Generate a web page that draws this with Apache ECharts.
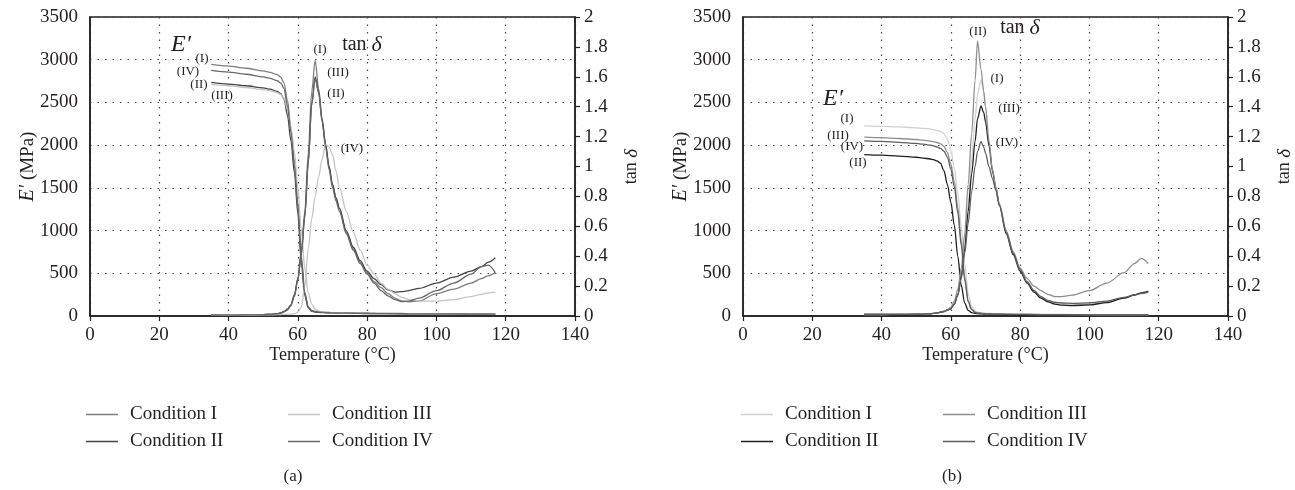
<!DOCTYPE html>
<html><head><meta charset="utf-8">
<script src="https://cdn.jsdelivr.net/npm/echarts@6/dist/echarts.min.js"></script>
<style>html,body{margin:0;padding:0;background:#fff}#c{width:1295px;height:490px}</style>
</head><body><div id="c"></div>
<script>
// ---------- data ----------
const conditionNames = ['Condition I','Condition II','Condition III','Condition IV'];
const xTicks = [0,20,40,60,80,100,120,140];

// panel (a)
const tempA = [35,40,45,50,52,54,55,56,57,58,59,60,61,62,63,64,65,66,67,68,69,70,71,72,74,76,78,80,82,84,86,88,90,92,95,100,105,110,113,115,117];
const aE_I   = [2945,2925,2900,2870,2852,2825,2800,2730,2520,2200,1820,1330,700,280,110,65,55,50,46,43,41,39,38,37,35,34,33,32,31,30,30,29,29,28,27,26,25,24,24,23,23];
const aE_II  = [2735,2715,2695,2670,2655,2630,2605,2540,2350,2050,1680,1200,620,240,95,55,45,42,40,38,36,35,34,33,32,31,30,29,28,28,27,27,26,26,25,25,24,23,23,22,22];
const aE_III = [2712,2695,2675,2650,2636,2615,2595,2545,2420,2220,1920,1500,1000,560,270,140,80,58,48,44,41,39,37,36,34,33,32,31,30,29,29,28,28,27,26,25,24,23,23,22,22];
const aE_IV  = [2875,2855,2830,2800,2782,2755,2730,2665,2460,2150,1760,1270,660,260,100,60,50,46,43,40,38,36,35,34,33,32,31,30,29,28,28,27,27,26,26,25,24,23,23,22,22];
const aT_I   = [0.005,0.006,0.007,0.009,0.011,0.015,0.02,0.03,0.045,0.075,0.14,0.25,0.43,0.70,1.09,1.5,1.71,1.52,1.32,1.15,1.0,0.88,0.79,0.72,0.56,0.45,0.36,0.29,0.23,0.19,0.15,0.12,0.1,0.095,0.1,0.15,0.18,0.22,0.25,0.27,0.29];
const aT_II  = [0.005,0.006,0.007,0.009,0.011,0.015,0.02,0.03,0.045,0.075,0.14,0.25,0.42,0.67,1.03,1.42,1.60,1.50,1.31,1.15,1.0,0.88,0.79,0.72,0.57,0.46,0.37,0.3,0.25,0.21,0.175,0.16,0.163,0.17,0.185,0.22,0.26,0.3,0.33,0.36,0.39];
const aT_III = [0.004,0.005,0.006,0.007,0.008,0.009,0.01,0.011,0.012,0.013,0.015,0.025,0.06,0.2,0.45,0.65,0.8,0.93,1.05,1.15,1.13,1.08,0.97,0.86,0.7,0.56,0.44,0.34,0.28,0.22,0.18,0.15,0.125,0.11,0.1,0.1,0.11,0.13,0.145,0.155,0.16];
const aT_IV  = [0.005,0.006,0.007,0.009,0.011,0.014,0.018,0.027,0.04,0.07,0.13,0.24,0.41,0.66,1.02,1.41,1.59,1.49,1.30,1.13,0.98,0.86,0.77,0.70,0.55,0.44,0.35,0.28,0.22,0.17,0.135,0.11,0.097,0.1,0.12,0.17,0.22,0.28,0.33,0.34,0.29];

// panel (b)
const tempB = [35,40,45,50,52,54,55,56,57,58,59,60,61,62,63,64,65,66,67,67.7,68.7,69.5,70,71,72,73,74,76,78,80,82,84,86,88,90,92,95,100,105,110,113,115,117];
const bE_I   = [2225,2220,2213,2203,2197,2188,2182,2172,2160,2135,2070,1940,1730,1430,1050,620,260,110,60,45,38,34,32,30,28,27,26,24,23,22,21,20,19,19,18,18,17,16,15,14,14,13,13];
const bE_II  = [1890,1882,1872,1858,1849,1838,1830,1815,1790,1700,1540,1330,1060,700,360,150,65,40,30,27,25,23,22,21,20,19,18,17,17,16,16,15,15,14,14,14,13,13,12,12,12,11,11];
const bE_III = [2095,2088,2078,2066,2058,2048,2041,2031,2015,1985,1915,1780,1570,1270,880,460,180,80,45,36,31,28,27,25,24,23,22,21,20,19,18,18,17,17,16,16,15,15,14,13,13,12,12];
const bE_IV  = [2050,2043,2033,2020,2012,2000,1992,1980,1962,1930,1860,1720,1510,1210,830,420,165,75,42,34,30,27,26,24,23,22,21,20,19,18,18,17,17,16,16,15,15,14,14,13,13,12,12];
const bT_I   = [0.01,0.01,0.011,0.012,0.013,0.015,0.017,0.02,0.025,0.03,0.04,0.05,0.08,0.15,0.27,0.47,0.75,1.05,1.32,1.48,1.58,1.5,1.4,1.18,0.98,0.86,0.75,0.56,0.42,0.31,0.23,0.17,0.13,0.1,0.088,0.08,0.076,0.08,0.095,0.12,0.14,0.15,0.16];
const bT_II  = [0.01,0.01,0.011,0.012,0.013,0.015,0.017,0.02,0.025,0.03,0.04,0.05,0.08,0.14,0.26,0.45,0.7,0.95,1.17,1.32,1.405,1.36,1.3,1.14,0.97,0.85,0.74,0.55,0.41,0.3,0.22,0.16,0.12,0.095,0.08,0.073,0.07,0.074,0.09,0.12,0.14,0.155,0.165];
const bT_III = [0.01,0.01,0.011,0.012,0.013,0.015,0.017,0.02,0.025,0.03,0.04,0.06,0.1,0.18,0.32,0.55,0.88,1.22,1.58,1.84,1.65,1.5,1.4,1.17,0.98,0.86,0.75,0.57,0.43,0.32,0.25,0.2,0.17,0.145,0.13,0.13,0.14,0.17,0.22,0.29,0.35,0.385,0.35];
const bT_IV  = [0.01,0.01,0.011,0.012,0.013,0.015,0.017,0.02,0.025,0.03,0.04,0.05,0.08,0.14,0.25,0.42,0.62,0.83,1.0,1.1,1.166,1.13,1.09,1.0,0.92,0.84,0.74,0.56,0.42,0.31,0.23,0.17,0.13,0.105,0.092,0.087,0.085,0.088,0.1,0.125,0.142,0.152,0.16];

// ---------- style ----------
const F = 'Liberation Serif, DejaVu Serif, serif';
const TC = '#231f20';
const colorsA = ['#7d7d7d','#454545','#c4c4c4','#686868'];
const colorsB = ['#d0d0d0','#1e1e1e','#8f8f8f','#5e5e5e'];

const series = [];
function addLine(name, t, v, color, xi, yi){
  series.push({type:'line', name, xAxisIndex:xi, yAxisIndex:yi,
    data:t.map((x,i)=>[x,v[i]]), symbol:'none', showSymbol:false,
    smooth:0.3, smoothMonotone:'x',
    lineStyle:{color, width:1.3}, itemStyle:{color}, animation:false});
}
const aE=[aE_I,aE_II,aE_III,aE_IV], aT=[aT_I,aT_II,aT_III,aT_IV];
const bE=[bE_I,bE_II,bE_III,bE_IV], bT=[bT_I,bT_II,bT_III,bT_IV];
for(let k=0;k<4;k++){
  addLine('a'+k, tempA, aE[k], colorsA[k], 0, 0);
  addLine('a'+k, tempA, aT[k], colorsA[k], 0, 1);
  addLine('b'+k, tempB, bE[k], colorsB[k], 1, 2);
  addLine('b'+k, tempB, bT[k], colorsB[k], 1, 3);
}

const FS = 19;
function xAxis(gi){
  return {type:'value', gridIndex:gi, min:xTicks[0], max:xTicks[xTicks.length-1], interval:20,
    name:'Temperature (°C)', nameLocation:'middle', nameGap:30, nameMoveOverlap:false,
    nameTextStyle:{fontFamily:F, fontSize:18, color:TC},
    axisLine:{onZero:false, lineStyle:{color:TC, width:1.5}},
    axisTick:{show:true, inside:false, length:5, lineStyle:{color:TC, width:1.2}},
    axisLabel:{fontFamily:F, fontSize:FS, color:TC, margin:10, formatter:v=>String(v)},
    splitLine:{show:true, lineStyle:{type:[1.5,6], color:'#444', width:1.2}}};
}
function yE(gi){
  return {type:'value', gridIndex:gi, position:'left', min:0, max:3500, interval:500,
    name:'{i|E′} (MPa)', nameLocation:'middle', nameGap:52, nameRotate:90, nameMoveOverlap:false,
    nameTextStyle:{fontFamily:F, fontSize:19, color:TC, rich:{i:{fontFamily:F, fontSize:20, fontStyle:'italic', color:TC}}},
    axisLine:{show:true, onZero:false, lineStyle:{color:TC, width:1.5}},
    axisTick:{show:false},
    axisLabel:{fontFamily:F, fontSize:FS, color:TC, margin:12, formatter:v=>String(v)},
    splitLine:{show:true, lineStyle:{type:[1.5,6], color:'#444', width:1.2}}};
}
function yT(gi){
  return {type:'value', gridIndex:gi, position:'right', min:0, max:2, interval:0.2,
    name:'{a|tan }{b|δ}', nameLocation:'middle', nameGap:47, nameRotate:90, nameMoveOverlap:false,
    nameTextStyle:{fontFamily:F, fontSize:18, color:TC, rich:{a:{fontFamily:F, fontSize:18, color:TC}, b:{fontFamily:F, fontSize:19, fontStyle:'italic', color:TC}}},
    axisLine:{show:true, onZero:false, lineStyle:{color:TC, width:1.5}},
    axisTick:{show:true, inside:false, length:5, lineStyle:{color:TC, width:1.2}},
    axisLabel:{fontFamily:F, fontSize:FS, color:TC, margin:9, formatter:v=>String(Math.round(v*10)/10)},
    splitLine:{show:false}};
}
function legend(names, left){
  return {orient:'vertical', left, top:405, padding:0, data:names, icon:'rect', itemWidth:32, itemHeight:1.5,
    itemGap:8, selectedMode:false,
    formatter:n=>conditionNames[+n.slice(1)],
    textStyle:{fontFamily:F, fontSize:19, lineHeight:19, color:TC, padding:[0,0,0,7]}};
}
function txt(x,y,text,size,italic){
  return {type:'text', x, y, silent:true, style:{text, x:0, y:0, fill:TC,
    font:(italic?'italic ':'')+size+'px '+F, textAlign:'center', textVerticalAlign:'middle', align:'center', verticalAlign:'middle'}};
}
function tanLabel(x,y){
  return {type:'text', x, y, silent:true, style:{text:'{a|tan }{b|δ}', fill:TC, align:'center', verticalAlign:'middle', textAlign:'center', textVerticalAlign:'middle',
    rich:{a:{fontFamily:F, fontSize:20, fill:TC, color:TC}, b:{fontFamily:F, fontSize:22, fontStyle:'italic', fill:TC, color:TC}}}};
}

const option = {
  backgroundColor:'#fff', animation:false,
  grid:[
    {left:90, right:720, top:17, bottom:174, show:true, borderColor:TC, borderWidth:1.5, backgroundColor:'transparent'},
    {left:743, right:67, top:17, bottom:174, show:true, borderColor:TC, borderWidth:1.5, backgroundColor:'transparent'}
  ],
  xAxis:[xAxis(0), xAxis(1)],
  yAxis:[yE(0), yT(0), yE(1), yT(1)],
  legend:[legend(['a0','a1'],86), legend(['a2','a3'],288), legend(['b0','b1'],741), legend(['b2','b3'],943)],
  series,
  graphic:[
    txt(181,45,'E′',24,true), txt(202,59,'(I)',13), txt(188,72,'(IV)',13), txt(199,85,'(II)',13), txt(222,96,'(III)',13),
    txt(320,50,'(I)',13), tanLabel(362,45), txt(338,73,'(III)',13), txt(336,94,'(II)',13), txt(352,149,'(IV)',13),
    txt(833,99,'E′',24,true), txt(847,119,'(I)',13), txt(838,136,'(III)',13), txt(852,147,'(IV)',13), txt(858,163,'(II)',13),
    txt(978,32,'(II)',13), tanLabel(1020,28), txt(997,79,'(I)',13), txt(1009,109,'(III)',13), txt(1007,143,'(IV)',13),
    txt(293,477,'(a)',17), txt(952,477,'(b)',17)
  ]
};
const chart = echarts.init(document.getElementById('c'), null, {renderer:'canvas'});
chart.setOption(option);
</script></body></html>
